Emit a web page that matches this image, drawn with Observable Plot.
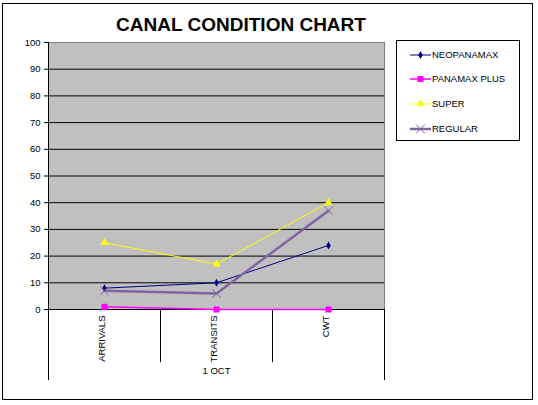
<!DOCTYPE html>
<html><head><meta charset="utf-8">
<script src="https://cdn.jsdelivr.net/npm/d3@7"></script>
<script src="https://cdn.jsdelivr.net/npm/@observablehq/plot@0.6"></script>
<style>
body{margin:0;background:#fff;font-family:"Liberation Sans",Arial,sans-serif;}
#wrap{position:relative;width:538px;height:405px;overflow:hidden;}
#wrap svg{position:absolute;left:0;top:0;}
#border{position:absolute;box-sizing:border-box;left:2px;top:3px;width:531px;height:397px;border:1.5px solid #000;pointer-events:none;}
#title{position:absolute;left:0;top:15px;width:482px;text-align:center;font-weight:bold;font-size:19px;line-height:19px;color:#000;white-space:nowrap;}
#legend{position:absolute;box-sizing:border-box;left:396px;top:40px;width:124px;height:101px;border:1px solid #000;background:#fff;}
.item{position:absolute;left:13px;height:14px;line-height:14px;font-size:9.5px;white-space:nowrap;display:flex;align-items:center;}
.item svg{position:static !important;margin-right:1px;}
</style></head><body>
<div id="wrap"></div>
<script>
const title = "CANAL CONDITION CHART";
const categories = ["ARRIVALS", "TRANSITS", "CWT"];
const groupLabel = "1 OCT";
const seriesNames = ["NEOPANAMAX", "PANAMAX PLUS", "SUPER", "REGULAR"];
const neopanamax = [8, 10, 24];
const panamaxPlus = [1, 0, 0];
const superShips = [25, 17, 40];
const regular = [7, 6, 37];
const yTicks = [0, 10, 20, 30, 40, 50, 60, 70, 80, 90, 100];

const seriesValues = [neopanamax, panamaxPlus, superShips, regular];
const colors = ["#000080", "#ff00ff", "#ffff00", "#8064a2"];
const symbols = ["diamond", "square", "triangle", "times"];
const lineWidths = [1, 1.5, 1, 2.5];
const dotR = [2.4, 3.4, 3, 4];

const rows = seriesNames.flatMap((s, k) =>
  categories.map((c, i) => ({series: s, k, cat: c, pos: i + 0.5, value: seriesValues[k][i]})));

const marks = [
  Plot.frame({fill: "#c0c0c0", stroke: "#808080"}),
  Plot.ruleY(yTicks.filter(v => v > 0 && v < 100), {stroke: "#000", strokeWidth: 1}),
  Plot.ruleY([0], {stroke: "#000"}),
  Plot.ruleX([0], {stroke: "#000"}),
  Plot.ruleX(d3.range(1, categories.length), {stroke: "#000", insetTop: 267, insetBottom: -53}),
  Plot.ruleX([0, categories.length], {stroke: "#000", insetTop: 267, insetBottom: -71}),
  Plot.text(categories, {x: (d, i) => i + 0.5, frameAnchor: "bottom", rotate: -90, textAnchor: "end", dy: 6, fontSize: 9.5, fill: "#000"}),
  Plot.text([groupLabel], {frameAnchor: "bottom", dy: 64, fontSize: 9.5, fill: "#000"})
];
seriesNames.forEach((s, k) => {
  const data = rows.filter(d => d.k === k);
  marks.push(Plot.line(data, {x: "pos", y: "value", stroke: colors[k], strokeWidth: lineWidths[k]}));
});
seriesNames.forEach((s, k) => {
  const data = rows.filter(d => d.k === k);
  if (symbols[k] === "times")
    marks.push(Plot.dot(data, {x: "pos", y: "value", symbol: () => symbols[k], r: dotR[k], stroke: colors[k], strokeWidth: 1, fill: "none"}));
  else
    marks.push(Plot.dot(data, {x: "pos", y: "value", symbol: () => symbols[k], r: dotR[k], fill: colors[k], stroke: "none"}));
});

const chart = Plot.plot({
  width: 538,
  height: 405,
  marginLeft: 48,
  marginRight: 154,
  marginTop: 42,
  marginBottom: 96,
  style: {fontFamily: "Liberation Sans, Arial, sans-serif", fontSize: "9.5px", color: "#000", background: "transparent"},
  x: {domain: [0, categories.length], axis: null},
  y: {domain: [0, 100], ticks: yTicks, tickSize: 4, tickPadding: 4, label: null},
  symbol: {type: "identity"},
  marks
});

const wrap = document.getElementById("wrap");
wrap.appendChild(chart);

const border = document.createElement("div");
border.id = "border";
wrap.appendChild(border);

const t = document.createElement("div");
t.id = "title";
t.textContent = title;
wrap.appendChild(t);

const legend = document.createElement("div");
legend.id = "legend";
const centers = [14, 38, 63, 88];
seriesNames.forEach((s, k) => {
  const item = document.createElement("div");
  item.className = "item";
  item.style.top = (centers[k] - 7) + "px";
  const sym = d3.symbol(
    {diamond: d3.symbolDiamond, square: d3.symbolSquare, triangle: d3.symbolTriangle, times: d3.symbolTimes}[symbols[k]],
    Math.PI * dotR[k] * dotR[k])();
  const svg = d3.create("svg").attr("width", 21).attr("height", 14);
  svg.append("line").attr("x1", 0).attr("x2", 21).attr("y1", 7).attr("y2", 7)
    .attr("stroke", colors[k]).attr("stroke-width", lineWidths[k]);
  const p = svg.append("path").attr("d", sym).attr("transform", "translate(10.5,7)");
  if (symbols[k] === "times") p.attr("fill", "none").attr("stroke", colors[k]);
  else p.attr("fill", colors[k]);
  item.appendChild(svg.node());
  const span = document.createElement("span");
  span.textContent = s;
  item.appendChild(span);
  legend.appendChild(item);
});
wrap.appendChild(legend);
</script>
</body></html>
